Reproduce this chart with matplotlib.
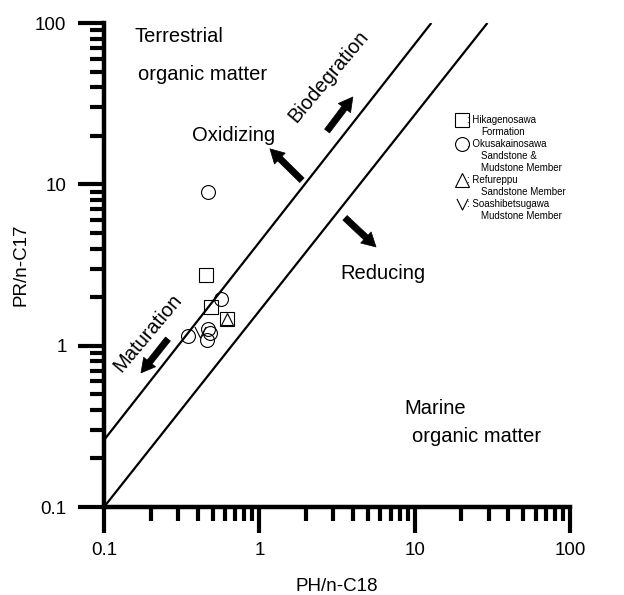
import matplotlib
matplotlib.use("Agg")
import matplotlib.pyplot as plt
from matplotlib.path import Path
from matplotlib.ticker import FixedLocator, FixedFormatter, LogLocator, NullFormatter

plt.rcParams['font.family'] = ['Liberation Sans', 'DejaVu Sans']

# samples (PH/n-C18, PR/n-C17)
hikage_x = [0.454, 0.489, 0.617]
hikage_y = [2.73, 1.74, 1.47]
okusa_x = [0.47, 0.563, 0.349, 0.464, 0.48, 0.463]
okusa_y = [8.9, 1.96, 1.15, 1.26, 1.19, 1.08]
refu_x = [0.617]
refu_y = [1.47]
soashi_x = [0.415]
soashi_y = [1.22]

# boundary lines
upper_x = [0.1, 12.8]
upper_y = [0.26, 100]
lower_x = [0.1, 29.4]
lower_y = [0.1, 100]

major_ticks = [0.1, 1, 10, 100]
major_labels = ['0.1', '1', '10', '100']

v_marker = Path([(-1, 1), (0, -1), (1, 1)], [Path.MOVETO, Path.LINETO, Path.LINETO])

fig = plt.figure(figsize=(6.24, 5.95), dpi=100)
ax = fig.add_axes([104/624, 88/595, 466/624, 484/595])

ax.set_xscale('log')
ax.set_yscale('log')
ax.set_xlim(0.1, 100)
ax.set_ylim(0.1, 100)

ax.plot(upper_x, upper_y, color='black', lw=1.6, solid_capstyle='butt')
ax.plot(lower_x, lower_y, color='black', lw=1.6, solid_capstyle='butt')

ax.plot(okusa_x, okusa_y, marker='o', ms=10, mfc='none', mec='black', mew=0.8, linestyle='none', zorder=3)
ax.plot(hikage_x, hikage_y, marker='s', ms=9.5, mfc='none', mec='black', mew=0.8, linestyle='none', zorder=3)
ax.plot(refu_x, refu_y, marker='^', ms=9, mfc='none', mec='black', mew=0.8, linestyle='none', zorder=3)
ax.plot(soashi_x, soashi_y, marker=v_marker, ms=8, mfc='none', mec='black', mew=0.8, linestyle='none', zorder=3)

# arrows
arrows = [
    ((2.73, 21.4), (4.0, 34.8)),    # biodegradation
    ((1.88, 10.6), (1.17, 16.6)),   # oxidizing
    ((3.56, 6.2), (5.64, 4.09)),    # reducing
    ((0.258, 1.10), (0.173, 0.678)),  # maturation
]
for tail, tip in arrows:
    ax.annotate('', xy=tip, xytext=tail,
                arrowprops=dict(arrowstyle='simple,head_length=1.0,head_width=1.1,tail_width=0.45',
                                fc='black', ec='black', lw=0.5, shrinkA=0, shrinkB=0,
                                mutation_scale=10))

fs = 14.5
ax.text(0.158, 83, 'Terrestrial', fontsize=fs, ha='left', va='center')
ax.text(0.165, 48, 'organic matter', fontsize=fs, ha='left', va='center')
ax.text(0.687, 20, 'Oxidizing', fontsize=fs, ha='center', va='center')
ax.text(6.27, 2.82, 'Reducing', fontsize=fs, ha='center', va='center')
ax.text(8.55, 0.41, 'Marine', fontsize=fs, ha='left', va='center')
ax.text(9.6, 0.275, 'organic matter', fontsize=fs, ha='left', va='center')
ax.text(2.81, 46.4, 'Biodegration', fontsize=fs, ha='center', va='center', rotation=50)
ax.text(0.192, 1.2, 'Maturation', fontsize=fs, ha='center', va='center', rotation=50)

# legend drawn by hand
lx, tx, cx = 0.768, 0.779, 0.809
lfs = 7
ax.plot([lx], [0.800], marker='s', ms=9.5, mfc='none', mec='black', mew=0.8, transform=ax.transAxes, clip_on=False)
ax.plot([lx], [0.750], marker='o', ms=10, mfc='none', mec='black', mew=0.8, transform=ax.transAxes, clip_on=False)
ax.plot([lx], [0.676], marker='^', ms=10, mfc='none', mec='black', mew=0.8, transform=ax.transAxes, clip_on=False)
ax.plot([lx], [0.626], marker=v_marker, ms=8, mfc='none', mec='black', mew=0.8, transform=ax.transAxes, clip_on=False)
legend_rows = [
    (tx, 120, ': Hikagenosawa'), (cx, 132, 'Formation'),
    (tx, 144, ': Okusakainosawa'), (cx, 156, 'Sandstone &'), (cx, 168, 'Mudstone Member'),
    (tx, 180, ': Refureppu'), (cx, 192, 'Sandstone Member'),
    (tx, 204, ': Soashibetsugawa'), (cx, 216, 'Mudstone Member'),
]
for x, py, s in legend_rows:
    ax.text(x, (507 - py) / 484, s, fontsize=lfs, ha='left', va='center', transform=ax.transAxes)

# axes styling
for side in ['top', 'right']:
    ax.spines[side].set_visible(False)
for side in ['left', 'bottom']:
    ax.spines[side].set_linewidth(3.2)

for axis in [ax.xaxis, ax.yaxis]:
    axis.set_major_locator(FixedLocator(major_ticks))
    axis.set_major_formatter(FixedFormatter(major_labels))
    axis.set_minor_locator(LogLocator(base=10, subs=range(2, 10)))
    axis.set_minor_formatter(NullFormatter())

ax.tick_params(which='major', direction='out', length=19, width=3, labelsize=13.5)
ax.tick_params(which='minor', direction='out', length=10, width=3)
ax.tick_params(axis='x', which='major', pad=6)
ax.tick_params(axis='y', which='major', pad=8)

ax.set_xlabel('PH/n-C18', fontsize=13.5, labelpad=14)
ax.set_ylabel('PR/n-C17', fontsize=13.5, labelpad=4)

fig.savefig('out.png', dpi=100, facecolor='white')
